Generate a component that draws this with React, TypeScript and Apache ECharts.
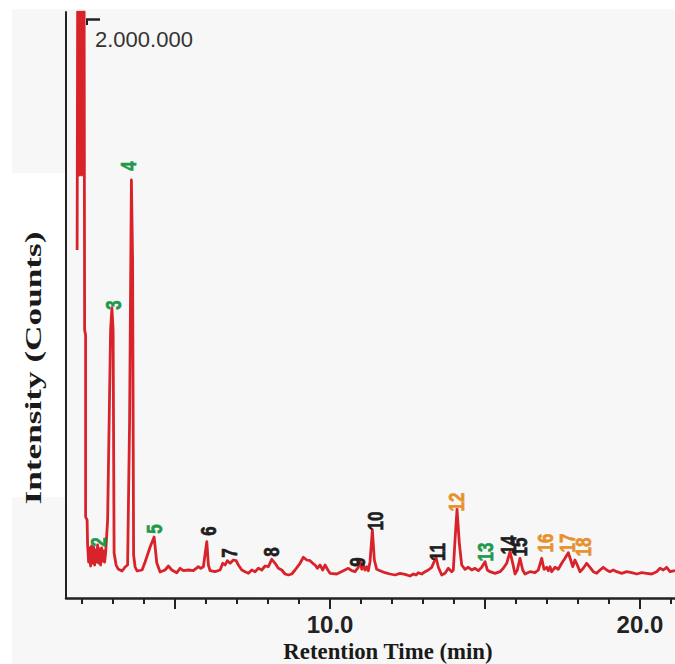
import React, { useEffect, useRef } from 'react';
import * as echarts from 'echarts';

// Chromatogram trace: [retention time (min), intensity (x1000 counts)]
const trace: [number, number][] = [
  [1.839, 3480], [1.855, 5860], [1.903, 4230], [1.935, 5860], [1.984, 4230], [2.016, 5860],
  [2.065, 5860], [2.081, 2680], [2.113, 2630], [2.113, 810], [2.161, 780],
  [2.177, 530], [2.21, 360], [2.242, 500], [2.274, 320], [2.306, 520], [2.339, 350], [2.371, 510],
  [2.403, 330], [2.435, 480], [2.468, 360], [2.5, 530], [2.532, 350], [2.565, 490], [2.597, 330],
  [2.629, 500], [2.661, 370], [2.694, 470], [2.726, 360], [2.758, 450],
  [2.823, 780], [2.919, 2680], [2.961, 2900], [3.0, 2680], [3.032, 450], [3.097, 330], [3.161, 290],
  [3.29, 270], [3.387, 310], [3.468, 330], [3.532, 1780], [3.59, 4180], [3.629, 3380], [3.661, 430],
  [3.71, 310], [3.774, 270], [3.935, 280], [4.032, 360], [4.194, 510], [4.323, 610], [4.41, 350],
  [4.516, 260], [4.677, 280], [4.784, 320], [4.894, 280], [5.055, 253], [5.161, 297], [5.268, 273],
  [5.429, 280], [5.59, 273], [5.752, 313], [5.829, 297], [5.913, 313], [6.023, 563], [6.074, 330],
  [6.129, 273], [6.29, 263], [6.452, 280], [6.539, 347], [6.613, 330], [6.687, 373], [6.774, 347],
  [6.881, 380], [6.968, 373], [7.042, 330], [7.152, 280], [7.258, 263], [7.365, 247], [7.474, 280],
  [7.581, 263], [7.687, 297], [7.797, 280], [7.903, 320], [8.01, 313], [8.119, 387], [8.226, 347],
  [8.332, 297], [8.442, 280], [8.548, 240], [8.655, 230], [8.765, 240], [8.871, 280], [9.032, 347],
  [9.139, 407], [9.248, 380], [9.355, 373], [9.442, 347], [9.516, 330], [9.59, 297], [9.677, 330],
  [9.765, 280], [9.839, 330], [9.945, 273],
  [10.0, 247], [10.216, 240], [10.429, 273], [10.59, 297], [10.7, 273], [10.806, 263], [10.913, 307],
  [10.968, 380], [11.023, 287], [11.074, 330], [11.129, 280], [11.184, 313], [11.235, 273], [11.29, 363],
  [11.365, 680], [11.429, 380], [11.506, 287], [11.613, 273], [11.774, 253], [11.935, 240], [12.097, 230],
  [12.258, 247], [12.419, 237], [12.581, 220], [12.687, 240], [12.774, 230], [12.848, 253], [12.958, 240],
  [13.065, 263], [13.171, 280], [13.281, 307], [13.419, 407], [13.494, 307], [13.603, 230], [13.71, 247],
  [13.816, 297], [13.926, 263], [13.977, 280], [14.032, 580], [14.097, 887], [14.171, 547], [14.248, 330],
  [14.355, 287], [14.461, 307], [14.571, 280], [14.677, 297], [14.784, 273], [14.894, 307], [15.0, 363],
  [15.074, 280], [15.161, 263], [15.323, 247], [15.484, 263], [15.59, 297], [15.7, 347], [15.806, 463],
  [15.894, 347], [15.968, 240], [16.042, 280], [16.129, 397], [16.216, 280], [16.29, 240], [16.452, 263],
  [16.613, 253], [16.719, 280], [16.829, 397], [16.903, 287], [16.99, 307], [17.042, 273], [17.097, 313],
  [17.152, 263], [17.258, 307], [17.365, 287], [17.474, 347], [17.581, 397], [17.687, 453], [17.765, 380],
  [17.829, 313], [17.903, 380], [17.977, 330], [18.065, 263], [18.171, 297], [18.281, 347], [18.387, 307],
  [18.494, 263], [18.603, 247], [18.71, 280], [18.816, 307], [18.926, 280], [19.032, 263], [19.139, 280],
  [19.248, 263], [19.41, 247], [19.571, 263], [19.732, 253], [19.894, 240], [20.055, 253], [20.216, 247],
  [20.377, 240], [20.539, 263], [20.645, 297], [20.752, 280], [20.861, 307], [20.968, 263], [21.129, 273],
];

// Peak annotations
const peakNumbers = ['2', '3', '4', '5', '6', '7', '8', '9', '10', '11', '12', '13', '14', '15', '16', '17', '18'];
const peakLabelTime = [2.516, 3.0, 3.484, 4.323, 6.065, 6.742, 8.097, 10.871, 11.452, 13.452, 14.065, 15.0, 15.742, 16.097, 16.935, 17.645, 18.161];
const peakLabelHeight = [560, 2930, 4320, 690, 670, 450, 460, 360, 770, 460, 960, 460, 530, 510, 550, 550, 510];
const peakGroup = ['g', 'g', 'g', 'g', 'k', 'k', 'k', 'k', 'k', 'k', 'o', 'g', 'k', 'k', 'o', 'o', 'o'];

const minorTicks = [2, 3, 4, 5, 6, 7, 8, 9, 10, 11, 12, 13, 14, 15, 16, 17, 18, 19, 20, 21];
const majorTicks = [5, 10, 15, 20];
const tickLabels = [10, 20];
const xMin = 1.48;
const xMax = 21.13;
const yMax = 5860;

const groupColor: Record<string, string> = { g: '#1f9a4a', k: '#1e1e1e', o: '#e6912e' };

export default function App() {
  const ref = useRef<HTMLDivElement>(null);
  useEffect(() => {
    if (!ref.current) return;
    const chart = echarts.init(ref.current, null, { renderer: 'svg' });
    const axisColor = '#222';
    chart.setOption({
      animation: false,
      grid: { left: 66, right: 0, top: 12, bottom: 66 },
      xAxis: [
        {
          type: 'value', min: xMin, max: xMax, position: 'bottom',
          axisLine: { show: true, lineStyle: { color: axisColor, width: 2.5 } },
          axisTick: { show: true, customValues: minorTicks, length: 6, lineStyle: { color: axisColor, width: 2 } },
          axisLabel: { show: false },
          splitLine: { show: false },
        },
        {
          type: 'value', min: xMin, max: xMax, position: 'bottom',
          axisLine: { show: false },
          axisTick: { show: true, customValues: majorTicks, length: 11, lineStyle: { color: axisColor, width: 2 } },
          axisLabel: {
            show: true, customValues: tickLabels, margin: 14,
            formatter: (v: number) => v.toFixed(1),
            fontFamily: 'Liberation Sans, Arial, sans-serif', fontWeight: 'bold', fontSize: 24, color: axisColor,
          },
          splitLine: { show: false },
        },
      ],
      yAxis: {
        type: 'value', min: 0, max: yMax,
        axisLine: { show: true, lineStyle: { color: axisColor, width: 2 } },
        axisTick: { show: false }, axisLabel: { show: false }, splitLine: { show: false },
      },
      series: [
        {
          type: 'line', xAxisIndex: 0, yAxisIndex: 0, data: trace, showSymbol: false, symbol: 'none',
          lineStyle: { color: '#d8232a', width: 2.8, join: 'round' }, clip: true,
        },
      ],
    });

    const labels = peakNumbers.map((n, i) => {
      const p = chart.convertToPixel({ seriesIndex: 0 }, [peakLabelTime[i], peakLabelHeight[i]]) as number[];
      const c = groupColor[peakGroup[i]];
      return {
        type: 'text', x: p[0], y: p[1], rotation: Math.PI / 2, scaleX: 1.0, scaleY: 1.3, z: 100,
        style: {
          text: n, fill: c, stroke: c, lineWidth: 0.5,
          fontFamily: 'Liberation Sans, Arial, sans-serif', fontWeight: 'bold', fontSize: 17,
          align: 'center', verticalAlign: 'middle', textAlign: 'center', textVerticalAlign: 'middle',
        },
      };
    });

    const textBase = { align: 'center', verticalAlign: 'middle', textAlign: 'center', textVerticalAlign: 'middle' };
    chart.setOption({
      graphic: [
        {
          elements: [
            ...labels,
            {
              type: 'text', x: 388, y: 651, scaleX: 0.95, z: 100,
              style: { ...textBase, text: 'Retention Time (min)', fill: '#1a1a1a', fontFamily: 'Liberation Serif, Times New Roman, serif', fontWeight: 'bold', fontSize: 24 },
            },
            {
              type: 'text', x: 33, y: 368, rotation: Math.PI / 2, scaleX: 1.5, z: 100,
              style: { ...textBase, text: 'Intensity (Counts)', fill: '#1a1a1a', fontFamily: 'Liberation Serif, Times New Roman, serif', fontWeight: 'bold', fontSize: 23.5 },
            },
            {
              type: 'text', x: 95, y: 39, z: 100,
              style: { text: '2.000.000', fill: '#333', fontFamily: 'Liberation Sans, Arial, sans-serif', fontSize: 22, align: 'left', verticalAlign: 'middle', textAlign: 'left', textVerticalAlign: 'middle' },
            },
            { type: 'line', z: 100, shape: { x1: 86, y1: 19.5, x2: 100, y2: 19.5 }, style: { stroke: '#222', lineWidth: 2.5 } },
            { type: 'line', z: 100, shape: { x1: 87, y1: 19, x2: 87, y2: 25 }, style: { stroke: '#222', lineWidth: 2 } },
          ],
        },
      ],
    });
    return () => chart.dispose();
  }, []);

  return (
    <div style={{ position: 'fixed', left: 0, top: 0, width: 675, height: 664, background: '#fff', overflow: 'hidden' }}>
      <div style={{ position: 'absolute', left: 12, top: 9, right: 0, bottom: 0, background: '#f7f7f7' }} />
      <div style={{ position: 'absolute', left: 12, top: 173, width: 53, height: 324, background: '#fff' }} />
      <div ref={ref} style={{ position: 'absolute', left: 0, top: 0, width: 675, height: 664 }} />
    </div>
  );
}
